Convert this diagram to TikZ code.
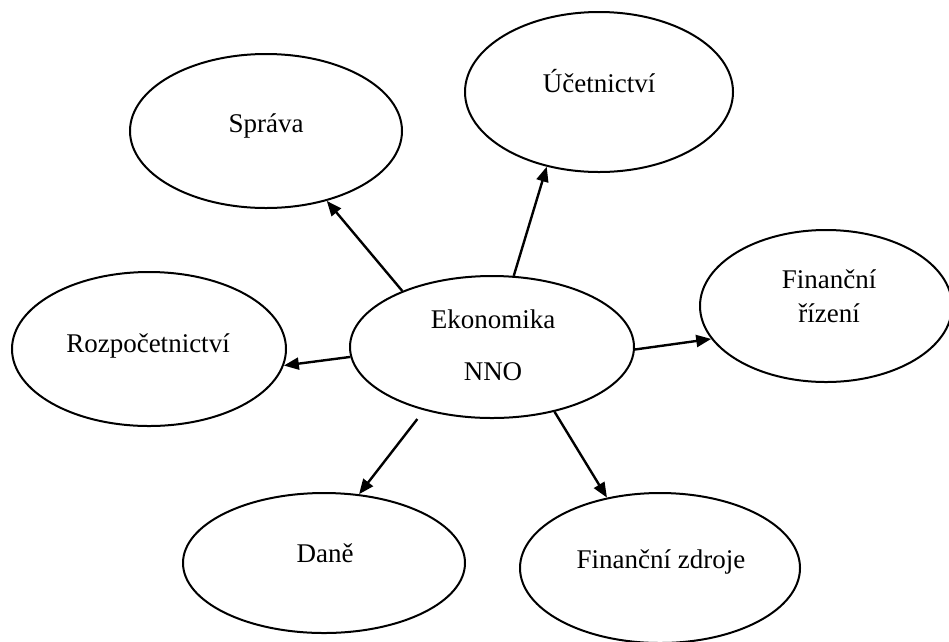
\documentclass[tikz,border=0pt]{standalone}
\usepackage{fontspec}
\setmainfont{Liberation Serif}
\usetikzlibrary{shapes.geometric,arrows.meta}
\tikzset{
  oval/.style={ellipse, draw=black, line width=2pt, inner sep=0pt},
  word/.style={anchor=base, inner sep=0pt, font=\fontsize{27}{32}\selectfont},
  link/.style={-{Triangle[length=15pt,width=12pt]}, line width=2.4pt}
}
\begin{document}
\begin{tikzpicture}[x=1pt, y=-1pt]
\useasboundingbox (0,0) rectangle (949,641);
\node (eko) at (492, 347) [oval, minimum width=284, minimum height=142] {};
\node (sprava) at (266, 131) [oval, minimum width=272, minimum height=154] {};
\node (ucet) at (599, 92) [oval, minimum width=268, minimum height=160] {};
\node (rizeni) at (826, 306) [oval, minimum width=252, minimum height=152] {};
\node (rozp) at (149, 349) [oval, minimum width=274, minimum height=154] {};
\node (dane) at (324, 563) [oval, minimum width=282, minimum height=140] {};
\node (zdroje) at (660, 568) [oval, minimum width=280, minimum height=150] {};

\node (eko1) at (493, 328) [word] {Ekonomika};
\node (eko2) at (493, 380) [word] {NNO};
\node (sprava1) at (266, 132) [word] {Správa};
\node (ucet1) at (599, 92) [word] {Účetnictví};
\node (rizeni1) at (829, 288) [word] {Finanční};
\node (rizeni2) at (829, 322) [word] {řízení};
\node (rozp1) at (148, 352) [word] {Rozpočetnictví};
\node (dane1) at (325, 562) [word] {Daně};
\node (zdroje1) at (661, 568) [word] {Finanční zdroje};

\draw[link] (eko.148) to (sprava.-49);
\draw[link] (eko.73) to (ucet.-125);
\draw[link] (eko.-1) to (rizeni.196);
\draw[link] (eko.184) to (rozp.-7);
\draw[link, shorten <=11pt] (eko.223) to (dane.63);
\draw[link] (eko.-46) to (zdroje.127);
\end{tikzpicture}
\end{document}
